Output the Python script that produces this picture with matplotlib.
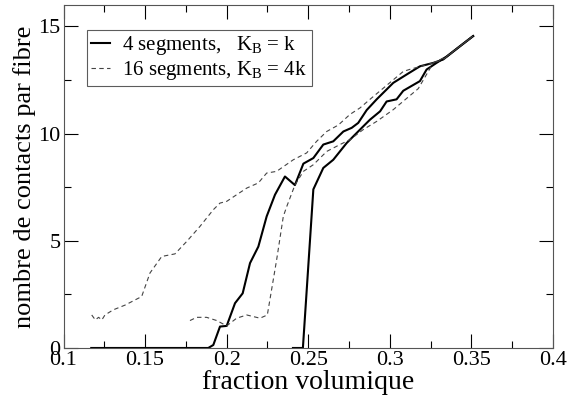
import matplotlib
matplotlib.use('Agg')
import matplotlib.pyplot as plt
from matplotlib.ticker import MultipleLocator

# 4 segments, K_B = k : two runs
a_x = [0.117, 0.1887, 0.1918, 0.1959, 0.200, 0.2051, 0.2098, 0.2143, 0.2194, 0.2245,
       0.2296, 0.2357, 0.2418, 0.247, 0.2531, 0.2592, 0.2653, 0.2715, 0.2766, 0.2806,
       0.2858, 0.2919, 0.3021, 0.3103, 0.3184, 0.3266, 0.3327, 0.343, 0.351]
a_y = [0.0, 0.0, 0.14, 1.0, 1.03, 2.09, 2.55, 3.96, 4.73, 6.14,
       7.15, 8.0, 7.6, 8.6, 8.86, 9.49, 9.64, 10.1, 10.27, 10.5,
       11.1, 11.6, 12.37, 12.76, 13.14, 13.3, 13.46, 14.08, 14.55]

b_x = [0.2406, 0.2467, 0.2531, 0.2592, 0.2653, 0.2735, 0.2837, 0.2878, 0.294, 0.298,
       0.3041, 0.3082, 0.3184, 0.3225, 0.3286, 0.3348, 0.343, 0.351]
b_y = [0.0, 0.0, 7.4, 8.4, 8.78, 9.56, 10.34, 10.65, 11.04, 11.5,
       11.6, 12.0, 12.45, 12.99, 13.3, 13.6, 14.08, 14.55]

# 16 segments, K_B = 4k : two runs
c_x = [0.1173, 0.1195, 0.1215, 0.1235, 0.1254, 0.1305, 0.1377, 0.1479, 0.153, 0.1602,
       0.1683, 0.1755, 0.1836, 0.1918, 0.1959, 0.200, 0.2061, 0.2123, 0.2194, 0.2245,
       0.2306, 0.2408, 0.249, 0.2551, 0.2613, 0.2684, 0.2756, 0.2817, 0.2878, 0.3082,
       0.3123, 0.3266, 0.3327, 0.343, 0.351]
c_y = [1.54, 1.31, 1.43, 1.31, 1.54, 1.78, 2.0, 2.4, 3.5, 4.27,
       4.39, 4.97, 5.67, 6.45, 6.76, 6.84, 7.15, 7.46, 7.7, 8.16,
       8.24, 8.78, 9.1, 9.64, 10.1, 10.4, 10.9, 11.2, 11.6, 12.9,
       13.0, 13.3, 13.46, 14.08, 14.55]

d_x = [0.1775, 0.1816, 0.1877, 0.1939, 0.200, 0.2061, 0.2123, 0.2204, 0.2249, 0.2306,
       0.2347, 0.2368, 0.2418, 0.247, 0.2531, 0.2613, 0.2694, 0.2756, 0.2837, 0.2919,
       0.3021, 0.3174, 0.3266, 0.3348, 0.343, 0.351]
d_y = [1.28, 1.43, 1.43, 1.28, 1.03, 1.39, 1.54, 1.39, 1.54, 4.11,
       6.14, 6.6, 7.6, 8.24, 8.55, 9.17, 9.49, 9.72, 10.19, 10.57,
       11.12, 12.1, 13.3, 13.6, 14.08, 14.55]

plt.rcParams['font.family'] = 'Liberation Serif'
plt.rcParams['mathtext.fontset'] = 'custom'
plt.rcParams['mathtext.rm'] = 'Liberation Serif'
plt.rcParams['mathtext.it'] = 'Liberation Serif'

fig = plt.figure(figsize=(5.69, 4.01), dpi=100)
ax = fig.add_axes([0.1116, 0.1322, 0.8604, 0.8553])

ax.plot(a_x, a_y, '-', color='black', lw=1.5, label=r'4 segments,   K$_\mathrm{B}$ = k')
ax.plot(b_x, b_y, '-', color='black', lw=1.5)
ax.plot(c_x, c_y, '--', color='#444444', lw=0.8, dashes=(4, 3),
        label=r'16 segments, K$_\mathrm{B}$ = 4k')
ax.plot(d_x, d_y, '--', color='#444444', lw=0.8, dashes=(4, 3))

ax.set_xlim(0.1, 0.4)
ax.set_ylim(0, 16)
ax.xaxis.set_major_locator(MultipleLocator(0.05))
ax.xaxis.set_minor_locator(MultipleLocator(0.025))
ax.yaxis.set_major_locator(MultipleLocator(5))
ax.yaxis.set_minor_locator(MultipleLocator(2.5))
ax.set_xticks([0.1, 0.15, 0.2, 0.25, 0.3, 0.35, 0.4])
ax.set_xticklabels(['0.1', '0.15', '0.2', '0.25', '0.3', '0.35', '0.4'])
ax.tick_params(which='both', direction='in', top=True, right=True, labelsize=16, pad=2)
ax.tick_params(which='major', length=10, width=0.8)
ax.tick_params(which='minor', length=5, width=0.8)
for s in ax.spines.values():
    s.set_linewidth(0.8)
    s.set_color('#555555')

ax.set_xlabel('fraction volumique', fontsize=20, labelpad=0)
ax.set_ylabel('nombre de contacts par fibre', fontsize=19, labelpad=2)

leg = ax.legend(loc='upper left', bbox_to_anchor=(0.048, 0.927), fontsize=15,
                frameon=True, fancybox=False, handlelength=0.9, handletextpad=0.6,
                borderpad=0.2, labelspacing=0.1, borderaxespad=0)
leg.get_frame().set_edgecolor('#333333')
leg.get_frame().set_linewidth(0.8)

fig.savefig('out.png', dpi=100)
